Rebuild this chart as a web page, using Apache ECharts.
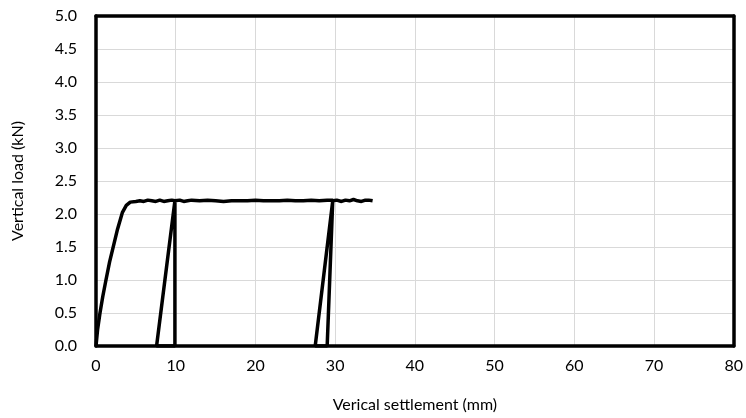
<!DOCTYPE html>
<html><head><meta charset="utf-8">
<script src="https://cdn.jsdelivr.net/npm/echarts@6/dist/echarts.min.js"></script>
<style>html,body{margin:0;padding:0;background:#fff}#c{width:746px;height:418px}</style>
</head><body><div id="c"></div>
<script>
// Vertical settlement (mm)
var settlement = [0,0.2,0.5,0.85,1.25,1.7,2.2,2.7,3.3,3.8,4.3,5,5.5,6,6.5,7,7.5,8,8.5,9,9.5,9.9,
  9.9,7.6,9.9,
  10.5,11,11.5,12,13,14,15,16,17,18,19,20,21,22,23,24,25,26,27,28,29,29.7,
  29.0,27.5,29.7,
  30.2,30.8,31.3,31.8,32.3,32.8,33.3,33.8,34.2,34.7];
// Vertical load (kN)
var load = [0,0.25,0.5,0.75,1.0,1.27,1.52,1.77,2.02,2.13,2.18,2.19,2.2,2.19,2.21,2.2,2.19,2.21,2.19,2.2,2.21,2.2,
  0,0,2.2,
  2.21,2.19,2.2,2.21,2.2,2.21,2.2,2.19,2.2,2.2,2.2,2.21,2.2,2.2,2.2,2.21,2.2,2.2,2.21,2.2,2.21,2.21,
  0,0,2.2,
  2.21,2.19,2.21,2.2,2.22,2.2,2.19,2.21,2.21,2.2];
var xTicks = {min:0, max:80, interval:10};
var yTicks = {min:0, max:5, interval:0.5};
var pts = settlement.map(function(x,i){return [x, load[i]];});
var font = "Lato, sans-serif";
var chart = echarts.init(document.getElementById('c'));
chart.setOption({
  animation:false,
  grid:{left:96,right:11,top:16,bottom:71},
  xAxis:[{type:'value',min:xTicks.min,max:xTicks.max,interval:xTicks.interval,
    name:'Verical settlement (mm)',nameLocation:'middle',nameGap:51,
    nameTextStyle:{fontFamily:font,fontSize:16,color:'#000'},
    axisLine:{show:true,lineStyle:{color:'#000',width:3.5}},axisTick:{show:false},
    axisLabel:{fontFamily:font,fontSize:16,color:'#000',margin:12},
    splitLine:{show:true,lineStyle:{color:'#d9d9d9',width:1}}},
   {type:'value',position:'top',min:xTicks.min,max:xTicks.max,
    axisLine:{show:true,onZero:false,lineStyle:{color:'#000',width:3.5}},axisTick:{show:false},
    axisLabel:{show:false},splitLine:{show:false}}],
  yAxis:[{type:'value',min:yTicks.min,max:yTicks.max,interval:yTicks.interval,
    name:'Vertical load (kN)',nameLocation:'middle',nameGap:70,
    nameTextStyle:{fontFamily:font,fontSize:16,color:'#000'},
    axisLine:{show:true,lineStyle:{color:'#000',width:3.5}},axisTick:{show:false},
    axisLabel:{fontFamily:font,fontSize:16,color:'#000',margin:19,formatter:function(v){return v.toFixed(1);}},
    splitLine:{show:true,lineStyle:{color:'#d9d9d9',width:1}}},
   {type:'value',position:'right',min:yTicks.min,max:yTicks.max,
    axisLine:{show:true,onZero:false,lineStyle:{color:'#000',width:3.5}},axisTick:{show:false},
    axisLabel:{show:false},splitLine:{show:false}}],
  series:[{type:'line',data:pts,showSymbol:false,smooth:false,
    lineStyle:{color:'#000',width:3.5},z:5}]
});
</script></body></html>
